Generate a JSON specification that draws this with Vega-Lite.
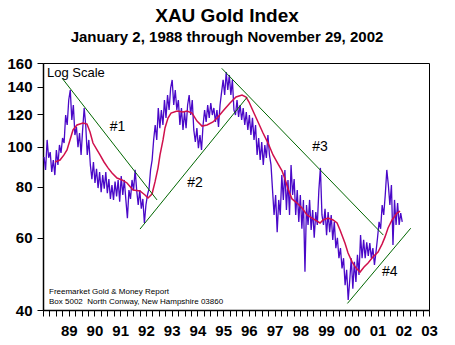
{
  "$schema": "https://vega.github.io/schema/vega-lite/v6.json",
  "width": 386,
  "height": 247,
  "autosize": {"type": "none"},
  "padding": {"left": 43, "top": 63, "right": 26, "bottom": 35},
  "background": "white",
  "title": {
    "text": "XAU Gold Index",
    "subtitle": "January 2, 1988 through November 29, 2002",
    "anchor": "middle",
    "dx": -9,
    "offset": 11,
    "font": "Liberation Sans",
    "fontSize": 19,
    "fontWeight": "bold",
    "color": "black",
    "subtitleFont": "Liberation Sans",
    "subtitleFontSize": 15,
    "subtitleFontWeight": "bold",
    "subtitleColor": "black",
    "subtitlePadding": 4
  },
  "config": {
    "view": {"stroke": "black", "strokeWidth": 1}
  },
  "datasets": {
    "xau": [
      {"t":1988.04,"v":94.4},{"t":1988.10,"v":87.8},{"t":1988.16,"v":103.9},{"t":1988.22,"v":94},{"t":1988.28,"v":97},
      {"t":1988.34,"v":86.8},{"t":1988.40,"v":92.8},{"t":1988.46,"v":85.3},{"t":1988.52,"v":98.2},{"t":1988.58,"v":90.3},
      {"t":1988.64,"v":101},{"t":1988.70,"v":96.6},{"t":1988.76,"v":105},{"t":1988.82,"v":102.1},{"t":1988.88,"v":119.5},
      {"t":1988.94,"v":113},{"t":1989.00,"v":130},{"t":1989.06,"v":137.5},{"t":1989.12,"v":116.2},{"t":1989.18,"v":126.4},
      {"t":1989.24,"v":106.8},{"t":1989.30,"v":111.7},{"t":1989.36,"v":99.8},{"t":1989.42,"v":108},{"t":1989.48,"v":95.5},
      {"t":1989.54,"v":110},{"t":1989.60,"v":124.3},{"t":1989.66,"v":113},{"t":1989.72,"v":95.5},{"t":1989.78,"v":103.9},
      {"t":1989.84,"v":90.3},{"t":1989.90,"v":83.4},{"t":1989.96,"v":91.8},{"t":1990.02,"v":81.6},{"t":1990.08,"v":88.4},
      {"t":1990.14,"v":79.3},{"t":1990.20,"v":86.8},{"t":1990.26,"v":77.5},{"t":1990.32,"v":85.3},{"t":1990.38,"v":79},
      {"t":1990.44,"v":86.8},{"t":1990.50,"v":77.1},{"t":1990.56,"v":83.4},{"t":1990.62,"v":74.6},{"t":1990.68,"v":80.7},
      {"t":1990.74,"v":74.2},{"t":1990.80,"v":82.2},{"t":1990.86,"v":75.7},{"t":1990.92,"v":83},{"t":1990.98,"v":73.5},
      {"t":1991.04,"v":84.8},{"t":1991.10,"v":76.3},{"t":1991.16,"v":83},{"t":1991.22,"v":74.2},{"t":1991.28,"v":67},
      {"t":1991.34,"v":78.4},{"t":1991.40,"v":74.6},{"t":1991.46,"v":83},{"t":1991.52,"v":78.4},{"t":1991.58,"v":87.8},
      {"t":1991.64,"v":78.4},{"t":1991.70,"v":72.1},{"t":1991.76,"v":78.4},{"t":1991.82,"v":70.6},{"t":1991.88,"v":74.6},
      {"t":1991.94,"v":65.2},{"t":1992.00,"v":72.1},{"t":1992.06,"v":76.3},{"t":1992.12,"v":79},{"t":1992.18,"v":87.8},
      {"t":1992.24,"v":92.8},{"t":1992.30,"v":103.9},{"t":1992.36,"v":113},{"t":1992.42,"v":103.9},{"t":1992.48,"v":124.3},
      {"t":1992.54,"v":111},{"t":1992.60,"v":122.9},{"t":1992.66,"v":113},{"t":1992.72,"v":130},{"t":1992.78,"v":117.6},
      {"t":1992.84,"v":133.7},{"t":1992.90,"v":122.9},{"t":1992.96,"v":139},{"t":1993.02,"v":145.5},{"t":1993.08,"v":126.4},
      {"t":1993.14,"v":137.5},{"t":1993.20,"v":122.9},{"t":1993.26,"v":130},{"t":1993.32,"v":113},{"t":1993.38,"v":124.3},
      {"t":1993.44,"v":109.9},{"t":1993.50,"v":121.5},{"t":1993.56,"v":111},{"t":1993.62,"v":126.4},{"t":1993.68,"v":133.7},
      {"t":1993.74,"v":119.5},{"t":1993.80,"v":130},{"t":1993.86,"v":109.9},{"t":1993.92,"v":102.7},{"t":1993.98,"v":111},
      {"t":1994.04,"v":99.2},{"t":1994.10,"v":106.8},{"t":1994.16,"v":98.2},{"t":1994.22,"v":113},{"t":1994.28,"v":122.9},
      {"t":1994.34,"v":114.9},{"t":1994.40,"v":126.4},{"t":1994.46,"v":117.6},{"t":1994.52,"v":127.8},{"t":1994.58,"v":119.5},
      {"t":1994.64,"v":124.3},{"t":1994.70,"v":114.9},{"t":1994.76,"v":122.9},{"t":1994.82,"v":111.7},{"t":1994.88,"v":126.4},
      {"t":1994.94,"v":135.9},{"t":1995.00,"v":145.5},{"t":1995.06,"v":133.7},{"t":1995.12,"v":152},{"t":1995.18,"v":137.5},
      {"t":1995.24,"v":149.6},{"t":1995.30,"v":133.7},{"t":1995.36,"v":145.5},{"t":1995.42,"v":122.9},{"t":1995.48,"v":119.5},
      {"t":1995.54,"v":130},{"t":1995.60,"v":118.2},{"t":1995.66,"v":126.4},{"t":1995.72,"v":116.2},{"t":1995.78,"v":124.3},
      {"t":1995.84,"v":113},{"t":1995.90,"v":121.5},{"t":1995.96,"v":109.9},{"t":1996.02,"v":119.5},{"t":1996.08,"v":106.8},
      {"t":1996.14,"v":117.6},{"t":1996.20,"v":103.9},{"t":1996.26,"v":113},{"t":1996.32,"v":95.5},{"t":1996.38,"v":105},
      {"t":1996.44,"v":92.8},{"t":1996.50,"v":102.7},{"t":1996.56,"v":90.3},{"t":1996.62,"v":101},{"t":1996.68,"v":93.9},
      {"t":1996.74,"v":106.8},{"t":1996.80,"v":95.5},{"t":1996.86,"v":90.3},{"t":1996.92,"v":78.4},{"t":1996.98,"v":68.2},
      {"t":1997.04,"v":76.3},{"t":1997.10,"v":61.9},{"t":1997.16,"v":74.2},{"t":1997.22,"v":68.2},{"t":1997.28,"v":85.3},
      {"t":1997.34,"v":74.2},{"t":1997.40,"v":87.8},{"t":1997.46,"v":70.1},{"t":1997.52,"v":83},{"t":1997.58,"v":68.2},
      {"t":1997.64,"v":90.3},{"t":1997.70,"v":76.3},{"t":1997.76,"v":83.4},{"t":1997.82,"v":68.2},{"t":1997.88,"v":78.4},
      {"t":1997.94,"v":65.6},{"t":1998.00,"v":76.3},{"t":1998.06,"v":63.1},{"t":1998.12,"v":74.2},{"t":1998.18,"v":49.6},
      {"t":1998.24,"v":72.1},{"t":1998.30,"v":64.5},{"t":1998.36,"v":74.2},{"t":1998.42,"v":62.7},{"t":1998.48,"v":70.1},
      {"t":1998.54,"v":60},{"t":1998.60,"v":69.3},{"t":1998.66,"v":64.5},{"t":1998.72,"v":78.4},{"t":1998.78,"v":88.8},
      {"t":1998.84,"v":68.2},{"t":1998.90,"v":64.5},{"t":1998.96,"v":70.6},{"t":1999.02,"v":60.9},{"t":1999.08,"v":69.3},
      {"t":1999.14,"v":61.9},{"t":1999.20,"v":68.2},{"t":1999.26,"v":59.3},{"t":1999.32,"v":65.6},{"t":1999.38,"v":56.6},
      {"t":1999.44,"v":60},{"t":1999.50,"v":53.5},{"t":1999.56,"v":56.6},{"t":1999.62,"v":50.5},{"t":1999.68,"v":53.5},
      {"t":1999.74,"v":46},{"t":1999.80,"v":50.1},{"t":1999.86,"v":42.3},{"t":1999.92,"v":47.3},{"t":1999.98,"v":53.5},
      {"t":2000.04,"v":45.1},{"t":2000.10,"v":52.4},{"t":2000.16,"v":46.8},{"t":2000.22,"v":54.5},{"t":2000.28,"v":48.7},
      {"t":2000.34,"v":60.9},{"t":2000.40,"v":53.5},{"t":2000.46,"v":59.3},{"t":2000.52,"v":53.5},{"t":2000.58,"v":58.5},
      {"t":2000.64,"v":54.2},{"t":2000.70,"v":58.2},{"t":2000.76,"v":53.5},{"t":2000.82,"v":56.6},{"t":2000.88,"v":51.5},
      {"t":2000.94,"v":55.4},{"t":2001.00,"v":60},{"t":2001.06,"v":65.6},{"t":2001.12,"v":63.1},{"t":2001.18,"v":72.1},
      {"t":2001.24,"v":68.2},{"t":2001.30,"v":76.3},{"t":2001.36,"v":87.8},{"t":2001.42,"v":80.7},{"t":2001.48,"v":72.1},
      {"t":2001.54,"v":80.7},{"t":2001.60,"v":57.6},{"t":2001.66,"v":74.2},{"t":2001.72,"v":64.5},{"t":2001.78,"v":72.9},
      {"t":2001.84,"v":64.5},{"t":2001.90,"v":68.9},{"t":2001.96,"v":65.6}
    ],
    "ma": [
      {"t":1988.466,"v":91.8},{"t":1988.661,"v":92.8},{"t":1988.816,"v":95.5},{"t":1988.933,"v":98.2},{"t":1989.049,"v":103.9},
      {"t":1989.166,"v":109.9},{"t":1989.321,"v":113.0},{"t":1989.555,"v":114.3},{"t":1989.710,"v":113.6},{"t":1989.827,"v":108.6},
      {"t":1989.943,"v":102.1},{"t":1990.099,"v":98.2},{"t":1990.215,"v":95.5},{"t":1990.371,"v":91.8},{"t":1990.526,"v":88.8},
      {"t":1990.682,"v":86.3},{"t":1990.876,"v":83.9},{"t":1991.071,"v":83.0},{"t":1991.265,"v":81.6},{"t":1991.498,"v":78.4},
      {"t":1991.769,"v":78.0},{"t":1991.964,"v":76.3},{"t":1992.081,"v":75.0},{"t":1992.236,"v":76.7},{"t":1992.353,"v":82.1},
      {"t":1992.469,"v":88.7},{"t":1992.547,"v":95.5},{"t":1992.664,"v":103.9},{"t":1992.741,"v":111.1},{"t":1992.858,"v":117.5},
      {"t":1992.975,"v":120.8},{"t":1993.208,"v":122.2},{"t":1993.441,"v":121.5},{"t":1993.597,"v":122.2},{"t":1993.791,"v":120.8},
      {"t":1993.985,"v":115.5},{"t":1994.180,"v":112.3},{"t":1994.374,"v":113.0},{"t":1994.607,"v":114.9},{"t":1994.801,"v":118.2},
      {"t":1994.995,"v":122.2},{"t":1995.267,"v":127.8},{"t":1995.501,"v":132.2},{"t":1995.734,"v":133.7},{"t":1995.890,"v":132.2},
      {"t":1996.006,"v":128.5},{"t":1996.162,"v":122.2},{"t":1996.356,"v":114.9},{"t":1996.550,"v":108.0},{"t":1996.745,"v":102.1},
      {"t":1996.939,"v":95.5},{"t":1997.133,"v":90.8},{"t":1997.289,"v":87.3},{"t":1997.405,"v":83.4},{"t":1997.522,"v":78.9},
      {"t":1997.677,"v":74.6},{"t":1997.872,"v":72.9},{"t":1998.066,"v":70.9},{"t":1998.260,"v":68.2},{"t":1998.455,"v":67.0},
      {"t":1998.649,"v":65.9},{"t":1998.766,"v":65.2},{"t":1998.883,"v":66.3},{"t":1999.077,"v":67.0},{"t":1999.271,"v":66.3},
      {"t":1999.427,"v":65.2},{"t":1999.543,"v":62.7},{"t":1999.737,"v":58.2},{"t":1999.854,"v":55.1},{"t":2000.010,"v":52.4},
      {"t":2000.165,"v":50.6},{"t":2000.321,"v":49.5},{"t":2000.476,"v":50.9},{"t":2000.632,"v":52.1},{"t":2000.826,"v":53.9},
      {"t":2001.020,"v":55.4},{"t":2001.176,"v":57.9},{"t":2001.292,"v":60.3},{"t":2001.409,"v":63.4},{"t":2001.564,"v":66.3},
      {"t":2001.759,"v":68.9},{"t":2001.876,"v":69.7}
    ],
    "trend": [
      {"line":"1","t":1988.74,"v":147},{"line":"1","t":1992.43,"v":74.2},
      {"line":"2","t":1991.77,"v":63},{"line":"2","t":1995.93,"v":132},
      {"line":"3","t":1994.945,"v":155.3},{"line":"3","t":2001.226,"v":60.9},
      {"line":"4","t":1999.83,"v":41.5},{"line":"4","t":2002.29,"v":63.3}
    ]
  },
  "encoding": {
    "x": {
      "field": "t",
      "type": "quantitative",
      "scale": {"domain": [1988, 2003], "nice": false, "zero": false},
      "axis": {
        "title": null,
        "grid": false,
        "values": [1988,1988.25,1988.5,1988.75,1989,1989.25,1989.5,1989.75,1990,1990.25,1990.5,1990.75,1991,1991.25,1991.5,1991.75,1992,1992.25,1992.5,1992.75,1993,1993.25,1993.5,1993.75,1994,1994.25,1994.5,1994.75,1995,1995.25,1995.5,1995.75,1996,1996.25,1996.5,1996.75,1997,1997.25,1997.5,1997.75,1998,1998.25,1998.5,1998.75,1999,1999.25,1999.5,1999.75,2000,2000.25,2000.5,2000.75,2001,2001.25,2001.5,2001.75,2002,2002.25,2002.5,2002.75,2003],
        "labelExpr": "(datum.value % 1 === 0 && datum.value > 1988) ? substring(toString(datum.value), 2, 4) : ''",
        "labelOverlap": false,
        "labelFlush": false,
        "tickSize": 6,
        "tickColor": "black",
        "tickWidth": 1,
        "domainColor": "black",
        "domainWidth": 1.5,
        "labelFont": "Liberation Sans",
        "labelFontSize": 15,
        "labelFontWeight": "bold",
        "labelColor": "black",
        "labelPadding": 7
      }
    },
    "y": {
      "field": "v",
      "type": "quantitative",
      "scale": {"type": "log", "domain": [40, 160], "nice": false},
      "axis": {
        "title": null,
        "grid": false,
        "values": [40, 60, 80, 100, 120, 140, 160],
        "format": "d",
        "labelOverlap": false,
        "labelFlush": false,
        "tickSize": 6,
        "tickColor": "black",
        "tickWidth": 1,
        "domainColor": "black",
        "domainWidth": 1.5,
        "labelFont": "Liberation Sans",
        "labelFontSize": 15,
        "labelFontWeight": "bold",
        "labelColor": "black",
        "labelPadding": 5
      }
    }
  },
  "layer": [
    {
      "data": {"name": "xau"},
      "mark": {"type": "line", "color": "#4a08c8", "strokeWidth": 1.3}
    },
    {
      "data": {"name": "ma"},
      "mark": {"type": "line", "color": "#d0104c", "strokeWidth": 1.5}
    },
    {
      "data": {"name": "trend"},
      "mark": {"type": "line", "color": "#006600", "strokeWidth": 1},
      "encoding": {"detail": {"field": "line"}}
    },
    {
      "data": {"values": [{"t": 1988.155, "v": 147.9, "label": "Log Scale"}]},
      "mark": {"type": "text", "align": "left", "baseline": "alphabetic", "font": "Liberation Sans", "fontSize": 13, "color": "black"},
      "encoding": {"text": {"field": "label"}}
    },
    {
      "data": {"values": [
        {"t": 1990.895, "v": 111.7, "label": "#1"},
        {"t": 1993.91, "v": 81.8, "label": "#2"},
        {"t": 1998.766, "v": 99.8, "label": "#3"},
        {"t": 2001.474, "v": 49.5, "label": "#4"}
      ]},
      "mark": {"type": "text", "align": "center", "baseline": "middle", "font": "Liberation Sans", "fontSize": 14, "color": "black"},
      "encoding": {"text": {"field": "label"}}
    },
    {
      "data": {"values": [
        {"t": 1988.233, "v": 43.76, "label": "Freemarket Gold & Money Report"},
        {"t": 1988.233, "v": 41.3, "label": "Box 5002\u00a0 North Conway, New Hampshire 03860"}
      ]},
      "mark": {"type": "text", "align": "left", "baseline": "alphabetic", "font": "Liberation Sans", "fontSize": 8, "color": "black"},
      "encoding": {"text": {"field": "label"}}
    }
  ]
}
